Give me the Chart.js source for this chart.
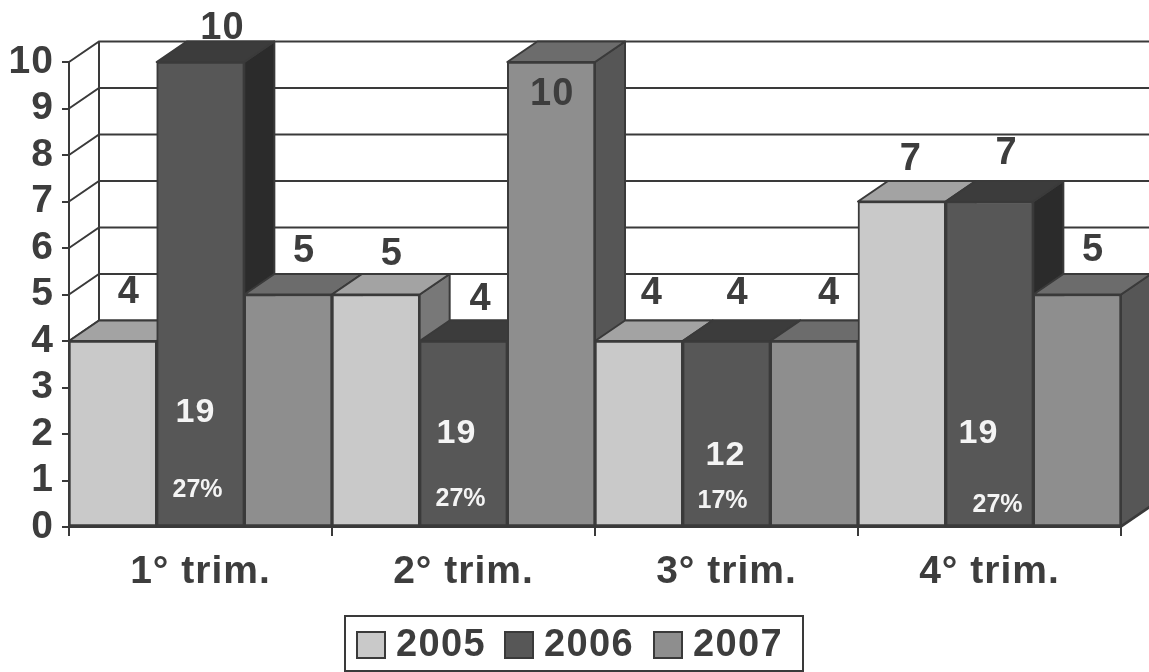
<!DOCTYPE html>
<html>
<head>
<meta charset="utf-8">
<style>html,body{margin:0;padding:0;background:#fff}canvas{display:block}</style>
<script src="https://cdn.jsdelivr.net/npm/chart.js@4"></script>
</head>
<body>
<canvas id="c" width="1149" height="672"></canvas>
<script>
const categories = ['1° trim.', '2° trim.', '3° trim.', '4° trim.'];
const values2005 = [4, 5, 4, 7];
const values2006 = [10, 4, 4, 7];
const values2007 = [5, 10, 4, 5];
const counts2006 = ['19', '19', '12', '19'];
const percents2006 = ['27%', '27%', '17%', '27%'];

// Styling, kept apart from the data
const frontColors = ['#c9c9c9', '#575757', '#8e8e8e'];
const topColors = ['#a3a3a3', '#3c3c3c', '#6c6c6c'];
const sideColors = ['#787878', '#2b2b2b', '#565656'];
const INK = '#3d3d3d', LINE = '#3a3a3a';
const DX = 30, DY = -20.5;
const valueNudge = [
  [[16,-48],[16,-40],[13,-47],[9,-42]],
  [[22,-33],[17,-41],[11,-47],[17,-48]],
  [[16,-43],[1,33],[15,-47],[16,-44]]
];
const countPlace = [[-5,2.46],[-7,2.01],[-1,1.53],[-11,2.01]];
const percentPlace = [[-3,0.80],[-3,0.61],[-4,0.56],[8,0.48]];
const FONT = 'Liberation Sans';

const threeD = {
  id: 'threeD',
  beforeDraw(chart) {
    chart.ctx.letterSpacing = '1px';
  },
  beforeDatasetsDraw(chart) {
    const {ctx, scales: {x, y}} = chart;
    const yBase = y.getPixelForValue(0);
    const xL = x.left, xR = x.right;
    ctx.save();
    ctx.strokeStyle = LINE; ctx.lineWidth = 2;
    // back wall + side wall grid
    y.ticks.forEach(t => {
      const py = y.getPixelForValue(t.value);
      ctx.beginPath();
      ctx.moveTo(xL, py); ctx.lineTo(xL + DX, py + DY); ctx.lineTo(chart.width, py + DY);
      ctx.stroke();
    });
    ctx.beginPath();
    ctx.moveTo(xL + DX, y.getPixelForValue(10) + DY); ctx.lineTo(xL + DX, yBase + DY);
    ctx.stroke();
    ctx.beginPath();
    ctx.moveTo(xR, yBase); ctx.lineTo(xR + DX, yBase + DY); ctx.stroke();

    // side and top faces, left to right
    const bars = [];
    chart.data.datasets.forEach((ds, di) => {
      chart.getDatasetMeta(di).data.forEach(el => bars.push({el, di}));
    });
    bars.sort((a, b) => a.el.x - b.el.x);
    ctx.lineWidth = 2; ctx.lineJoin = 'round';
    bars.forEach(({el, di}) => {
      const hw = el.width / 2, l = el.x - hw, r = el.x + hw, t = el.y, b = el.base;
      ctx.strokeStyle = LINE;
      ctx.fillStyle = sideColors[di];
      ctx.beginPath();
      ctx.moveTo(r, t); ctx.lineTo(r + DX, t + DY); ctx.lineTo(r + DX, b + DY); ctx.lineTo(r, b); ctx.closePath();
      ctx.fill(); ctx.stroke();
      ctx.fillStyle = topColors[di];
      ctx.beginPath();
      ctx.moveTo(l, t); ctx.lineTo(l + DX, t + DY); ctx.lineTo(r + DX, t + DY); ctx.lineTo(r, t); ctx.closePath();
      ctx.fill(); ctx.stroke();
    });
    ctx.restore();
  },
  afterDatasetsDraw(chart) {
    const {ctx, scales: {y}} = chart;
    ctx.save();
    ctx.textAlign = 'center'; ctx.textBaseline = 'middle';
    // value labels
    ctx.fillStyle = INK;
    ctx.font = 'bold 38px "' + FONT + '"';
    chart.data.datasets.forEach((ds, di) => {
      chart.getDatasetMeta(di).data.forEach((el, i) => {
        const n = valueNudge[di][i];
        ctx.fillText(String(ds.data[i]), el.x + n[0], el.y + n[1]);
      });
    });
    // white labels on the 2006 bars
    const m = chart.getDatasetMeta(1).data;
    ctx.fillStyle = '#f4f4f4';
    ctx.font = 'bold 34px "' + FONT + '"';
    counts2006.forEach((s, i) => ctx.fillText(s, m[i].x + countPlace[i][0], y.getPixelForValue(countPlace[i][1])));
    ctx.letterSpacing = '0px';
    ctx.font = 'bold 25px "' + FONT + '"';
    percents2006.forEach((s, i) => ctx.fillText(s, m[i].x + percentPlace[i][0], y.getPixelForValue(percentPlace[i][1])));
    ctx.restore();
    // legend
    ctx.save();
    ctx.letterSpacing = '1.4px';
    ctx.strokeStyle = LINE; ctx.lineWidth = 2;
    ctx.strokeRect(345, 616, 458, 55);
    ctx.textAlign = 'left'; ctx.textBaseline = 'middle';
    ctx.font = 'bold 38px "' + FONT + '"';
    const swX = [357, 505, 654], txX = [396, 544, 693];
    chart.data.datasets.forEach((ds, i) => {
      ctx.fillStyle = frontColors[i];
      ctx.fillRect(swX[i], 632, 28, 26);
      ctx.strokeRect(swX[i], 632, 28, 26);
      ctx.fillStyle = INK;
      ctx.fillText(ds.label, txX[i], 646);
    });
    ctx.restore();
  }
};

const series = [values2005, values2006, values2007];
const seriesNames = ['2005', '2006', '2007'];

new Chart(document.getElementById('c'), {
  type: 'bar',
  data: {
    labels: categories,
    datasets: series.map((d, i) => ({
      label: seriesNames[i],
      data: d,
      backgroundColor: frontColors[i],
      borderColor: LINE,
      borderWidth: 2,
      borderSkipped: false,
      barPercentage: 1,
      categoryPercentage: 1
    }))
  },
  options: {
    responsive: false,
    animation: false,
    devicePixelRatio: 1,
    layout: {padding: {left: 0, top: 62, right: 28, bottom: 0}},
    plugins: {legend: {display: false}, title: {display: false}, tooltip: {enabled: false}},
    scales: {
      x: {
        afterFit(s) { s.height = 145; },
        grid: {drawOnChartArea: false, offset: true, color: LINE, lineWidth: 2, tickLength: 9, drawTicks: true},
        border: {color: LINE, width: 2},
        ticks: {color: INK, padding: 13, maxRotation: 0, font: {family: FONT, size: 39, weight: 'bold'}}
      },
      y: {
        min: 0, max: 10,
        afterFit(s) { s.width = 69; },
        grid: {drawOnChartArea: false, color: LINE, lineWidth: 2, tickLength: 7},
        border: {color: LINE, width: 2},
        ticks: {stepSize: 1, autoSkip: false, color: INK, padding: 8, font: {family: FONT, size: 39, weight: 'bold'}}
      }
    }
  },
  plugins: [threeD]
});
</script>
</body>
</html>
